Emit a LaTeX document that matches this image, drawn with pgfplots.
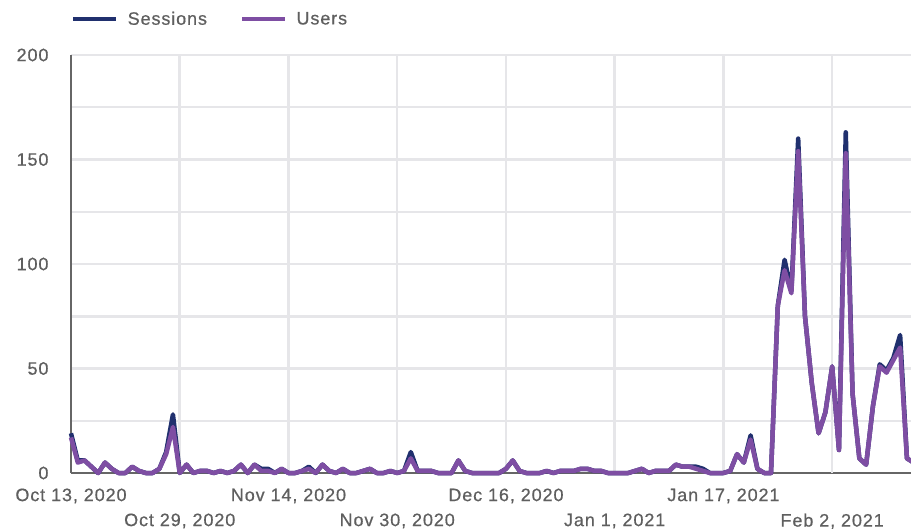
\documentclass[border=0pt]{standalone}
\usepackage{fontspec}
\setmainfont{Liberation Sans}[LetterSpace=5, FakeBold=0.6]
\usepackage{pgfplots}
\pgfplotsset{compat=1.18}
\usepackage{pgfplotstable}

\definecolor{sessions}{RGB}{32,48,110}
\definecolor{users}{RGB}{126,78,163}
\definecolor{gridc}{RGB}{230,230,233}
\definecolor{axisc}{RGB}{102,102,102}
\definecolor{labelc}{RGB}{95,95,95}

% daily sessions and users, day 0 = Oct 13, 2020
\pgfplotstableread{
day sessions users
0 19 17
1 6 5
2 6 6
3 3 3
4 0 0
5 5 5
6 2 2
7 0 0
8 0 0
9 3 3
10 1 1
11 0 0
12 0 0
13 2 2
14 10 9
15 28 22
16 0 0
17 4 4
18 0 0
19 1 1
20 1 1
21 0 0
22 1 1
23 0 0
24 1 1
25 4 4
26 0 0
27 4 4
28 2 1
29 2 1
30 0 0
31 2 2
32 0 0
33 0 0
34 1 1
35 3 2
36 0 0
37 4 4
38 1 1
39 0 0
40 2 2
41 0 0
42 0 0
43 1 1
44 2 2
45 0 0
46 0 0
47 1 1
48 0 0
49 1 1
50 10 7
51 1 1
52 1 1
53 1 1
54 0 0
55 0 0
56 0 0
57 6 6
58 1 1
59 0 0
60 0 0
61 0 0
62 0 0
63 0 0
64 2 2
65 6 6
66 1 1
67 0 0
68 0 0
69 0 0
70 1 1
71 0 0
72 1 1
73 1 1
74 1 1
75 2 2
76 2 2
77 1 1
78 1 1
79 0 0
80 0 0
81 0 0
82 0 0
83 1 1
84 2 2
85 0 0
86 1 1
87 1 1
88 1 1
89 4 4
90 3 3
91 3 3
92 3 2
93 2 1
94 0 0
95 0 0
96 0 0
97 1 1
98 9 9
99 5 5
100 18 16
101 2 2
102 0 0
103 0 0
104 80 80
105 102 97
106 87 86
107 160 154
108 75 75
109 43 43
110 19 19
111 29 29
112 51 51
113 11 11
114 163 153
115 38 38
116 7 7
117 4 4
118 32 32
119 52 51
120 49 48
121 55 54
122 66 60
123 7 7
124 5 5
}\traffic

\begin{document}
\begin{tikzpicture}
\begin{axis}[
  scale only axis,
  width=840pt, height=418pt,
  xmin=0, xmax=123.6,
  ymin=0, ymax=200,
  clip=false,
  axis x line*=bottom,
  axis y line*=left,
  axis line style={axisc, line width=2.5pt},
  xtick={0,32,64,96},
  xticklabels={{Oct 13, 2020},{Nov 14, 2020},{Dec 16, 2020},{Jan 17, 2021}},
  extra x ticks={16,48,80,112},
  extra x tick labels={{Oct 29, 2020},{Nov 30, 2020},{Jan 1, 2021},{Feb 2, 2021}},
  extra x tick style={grid=major, xticklabel style={yshift=-25pt}},
  ytick={0,25,...,200},
  yticklabels={0,,50,,100,,150,,200},
  grid=major,
  major grid style={gridc, line width=2.5pt},
  major tick length=0pt,
  tick label style={font=\fontsize{18}{20}\selectfont, text=labelc},
  xticklabel style={yshift=-12pt},
  yticklabel style={xshift=-19pt},
  legend columns=-1,
  legend style={draw=none, fill=none, at={(0,1)}, anchor=west,
    yshift=36pt, inner sep=0pt,
    font=\fontsize{18}{20}\selectfont, text=labelc,
    nodes={inner sep=0pt, anchor=west},
    /tikz/every odd column/.append style={column sep=9pt},
    /tikz/every even column/.append style={column sep=33pt}},
  legend image code/.code={\draw[#1] (0pt,0pt) -- (43pt,0pt);},
]
\addplot[sessions, line width=4.5pt, line join=round] table[x=day, y=sessions] {\traffic};
\addlegendentry{Sessions}
\addplot[users, line width=4.5pt, line join=round] table[x=day, y=users] {\traffic};
\addlegendentry{Users}
\end{axis}
\pgfresetboundingbox
\path[use as bounding box] (-71pt,-58pt) rectangle (840pt,473pt);
\end{tikzpicture}
\end{document}
